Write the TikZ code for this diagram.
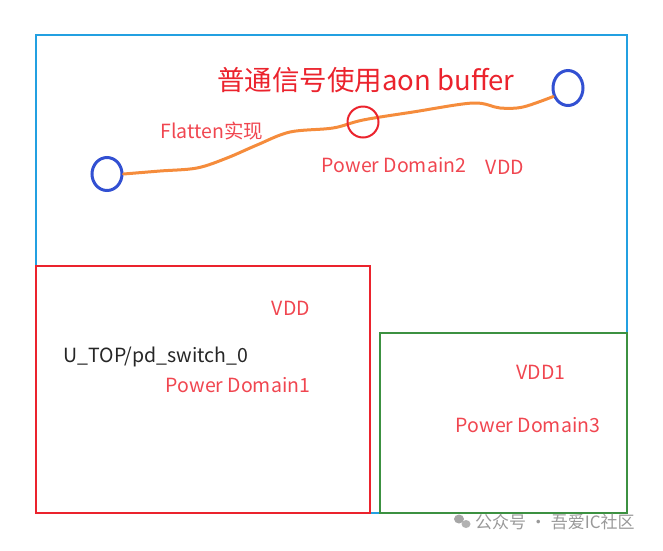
\documentclass[tikz,border=0pt]{standalone}
\usepackage{fontspec}
\newfontfamily\cjk{Noto Sans CJK SC}
\usetikzlibrary{shapes.geometric}

\definecolor{topblue}{RGB}{35,160,225}
\definecolor{pdred}{RGB}{235,35,45}
\definecolor{pdgreen}{RGB}{60,145,65}
\definecolor{lblred}{RGB}{240,70,80}
\definecolor{pinblue}{RGB}{50,80,210}
\definecolor{wireorange}{RGB}{245,140,60}

\begin{document}
\begin{tikzpicture}[
    x=1pt,y=-1pt,
    dom/.style={line width=2pt},
    lbl/.style={font=\cjk\fontsize{19.5}{22}\selectfont,text=lblred,inner sep=0pt},
    title/.style={font=\cjk\fontsize{27.5}{30}\selectfont,text=pdred,inner sep=0pt},
    pin/.style={ellipse,draw=pinblue,line width=3pt,minimum width=30pt,minimum height=33pt,inner sep=0pt},
    ring/.style={circle,draw=pdred,line width=2pt,minimum size=31pt,inner sep=0pt},
    wire/.style={line width=3pt,wireorange,line cap=round,line join=round}
]
\useasboundingbox (0,0) rectangle (663,550);

% power domains
\draw[dom,topblue] (36,35) rectangle (627,513);
\draw[dom,pdred,line width=2.5pt] (36,266) rectangle (370,513);
\draw[dom,pdgreen] (380,333) rectangle (627,513);

% pins and the flattened net
\node[pin] (pinL) at (107,174) {};
\node[pin,minimum height=35pt] (pinR) at (568,88) {};
\draw[wire] plot[smooth,tension=0.55] coordinates {(pinL.east) (160,171) (197,168)
    (227,158) (257,145) (290,132) (333,128) (363,120) (413,112) (473,103)
    (500,108) (523,107) (pinR.210)};
\node[ring] (buf) at (363,122) {};

% labels
\node[title] (ttl) at (366,80) {普通信号使用aon buffer};
\node[lbl] (flat) at (212,131) {Flatten实现};
\node[lbl] (pd2) at (394,165) {Power Domain2};
\node[lbl] (vdd2) at (505,167) {VDD};
\node[lbl] (vdd1) at (291,308) {VDD};
\node[lbl,text=black!85] (inst) at (156,357) {U\_TOP/pd\_switch\_0};
\node[lbl] (pd1) at (238,385) {Power Domain1};
\node[lbl] (vdd3) at (541,372) {VDD1};
\node[lbl] (pd3) at (528,425) {Power Domain3};

% watermark
\fill[black!35] (459,519) ellipse (5pt and 4.5pt);
\fill[black!30] (466,524) ellipse (4.5pt and 4pt);
\node[lbl,text=black!40,font=\cjk\fontsize{17}{20}\selectfont,anchor=west] (wm) at (475,522) {公众号 · 吾爱IC社区};
\end{tikzpicture}
\end{document}
